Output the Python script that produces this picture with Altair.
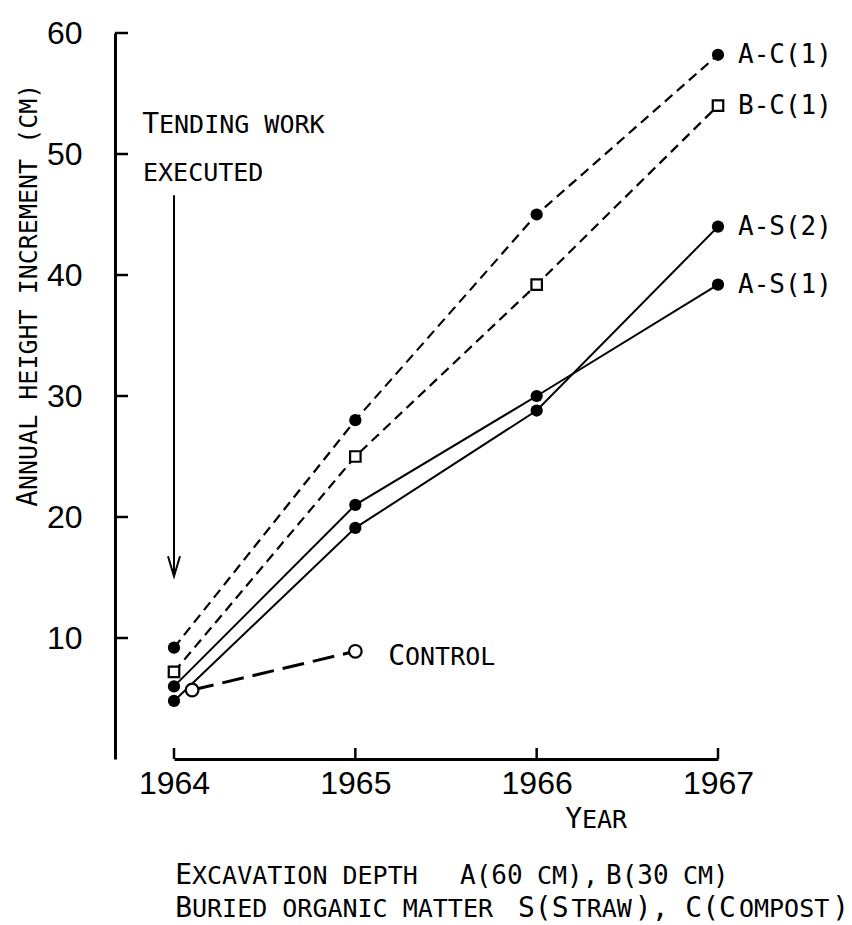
import altair as alt
import pandas as pd

# ---- data -------------------------------------------------------------
years = [1964, 1965, 1966, 1967]
series_names = ["A-C(1)", "B-C(1)", "A-S(2)", "A-S(1)"]
ac1 = [9.2, 28.0, 45.0, 58.2]
bc1 = [7.2, 25.0, 39.2, 54.0]
as2 = [4.8, 19.1, 28.8, 44.0]
as1 = [6.0, 21.0, 30.0, 39.2]
control_years = [1964.1, 1965]
control_values = [5.7, 8.9]
y_tick_values = [10, 20, 30, 40, 50, 60]
arrow_year = [1964]
arrow_from = [46.6]
arrow_to = [15.1]

TEXT_FONT = "DejaVu Sans Mono"
TICK_FONT = "Liberation Sans, DejaVu Sans Condensed"
MONO_ADV = 0.6021  # advance width of DejaVu Sans Mono, in em
BIG = 28           # full capitals
MID = 26           # full capitals in the footnote units
SMALL = 25         # small capitals
LABEL = 26         # series labels

W, H = 544, 726
OX, OY = 174, 33   # top-left corner of the plot area on the page

rows = []
for name, vals in zip(series_names, [ac1, bc1, as2, as1]):
    for yr, v in zip(years, vals):
        rows.append({"series": name, "year": yr, "value": v})
df = pd.DataFrame(rows)
df_ctrl = pd.DataFrame({"series": "Control", "year": control_years, "value": control_values})
df_last = df[df["year"] == years[-1]]

xs = alt.Scale(domain=[1964, 1967], nice=False, zero=False)
ys = alt.Scale(domain=[0, 60], nice=False, zero=True)


def X(axis=None):
    return alt.X("year:Q", scale=xs, axis=axis)


def Y(axis=None):
    return alt.Y("value:Q", scale=ys, axis=axis)


x_axis = alt.Axis(values=years, format="d", ticks=False, grid=False, title=None,
                  labelFont=TICK_FONT, labelFontSize=32, labelColor="black",
                  labelFlush=False, labelPadding=9, domainColor="black", domainWidth=3)
y_axis = alt.Axis(values=y_tick_values, format="d", ticks=False, grid=False, title=None,
                  offset=59, labelFont=TICK_FONT, labelFontSize=32, labelColor="black",
                  labelFlush=False, labelPadding=33, domainColor="black", domainWidth=3,
                  labelBaseline="middle")

# ---- lines ------------------------------------------------------------
solid = alt.Chart(df[df["series"].str.startswith("A-S")]).mark_line(
    color="black", strokeWidth=2).encode(x=X(x_axis), y=Y(y_axis), detail="series:N")

dashed = alt.Chart(df[df["series"].str.endswith("C(1)")]).mark_line(
    color="black", strokeWidth=2.2, strokeDash=[10, 6]).encode(x=X(), y=Y(), detail="series:N")

ctrl_line = alt.Chart(df_ctrl).mark_line(
    color="black", strokeWidth=3, strokeDash=[22, 9]).encode(x=X(), y=Y())

# ---- axis ticks pointing into the plot ---------------------------------
y_ticks = alt.Chart(pd.DataFrame({"value": y_tick_values})).mark_rule(
    color="black", strokeWidth=2.5).encode(
    y=Y(), x=alt.value(-59), x2=alt.value(-46))
x_ticks = alt.Chart(pd.DataFrame({"year": years})).mark_rule(
    color="black", strokeWidth=2.5).encode(
    x=X(), y=alt.value(H), y2=alt.value(H - 11))

# ---- markers ----------------------------------------------------------
dots = alt.Chart(df[df["series"] != "B-C(1)"]).mark_point(
    shape="circle", filled=True, color="black", size=150, opacity=1).encode(x=X(), y=Y())
squares = alt.Chart(df[df["series"] == "B-C(1)"]).mark_point(
    shape="square", filled=True, fill="white", stroke="black", strokeWidth=2.2,
    size=110, opacity=1).encode(x=X(), y=Y())
ctrl_pts = alt.Chart(df_ctrl).mark_point(
    shape="circle", filled=True, fill="white", stroke="black", strokeWidth=2.2,
    size=160, opacity=1).encode(x=X(), y=Y())

series_labels = alt.Chart(df_last).mark_text(
    align="left", baseline="middle", dx=20, font=TEXT_FONT, fontSize=LABEL, color="black"
).encode(x=X(), y=Y(), text="series:N")

# ---- arrow marking when the tending work was done ----------------------
df_arrow = pd.DataFrame({"year": arrow_year, "value": arrow_from, "end": arrow_to})
arrow_shaft = alt.Chart(df_arrow).mark_rule(color="black", strokeWidth=2).encode(
    x=X(), y=Y(), y2="end:Q")
arrow_head = alt.Chart(df_arrow).mark_point(
    shape="M-0.3,-1L0,0L0.3,-1", filled=False, stroke="black", strokeWidth=2,
    size=1600, opacity=1).encode(x=X(), y=alt.Y("end:Q", scale=ys, axis=None))


# ---- small-capital lettering (page pixels converted to plot-area pixels) -
def seg(t, size, px, py):
    return {"t": t, "fs": size, "px": px - OX, "py": py - OY}


def chain(parts, x0, py, gap=2):
    """Lay out consecutive monospace pieces of mixed size from x0."""
    out, x = [], x0
    for t, size in parts:
        out.append(seg(t, size, x, py))
        x += len(t) * MONO_ADV * size + gap
    return out


left_segments = [
    seg("ENDING WORK", SMALL, 159, 133),
    seg("EXECUTED", SMALL, 143, 181),
    seg("ONTROL", SMALL, 405, 665),
    seg("EAR", SMALL, 582, 828),
    # footnote line 1
    seg("XCAVATION DEPTH", SMALL, 192, 884),
    seg("A(60", MID, 460, 884), seg("CM", SMALL, 537, 884), seg("),", MID, 567, 884),
    seg("B(30", MID, 606, 884), seg("CM", SMALL, 683, 884), seg(")", MID, 713, 884),
    # footnote line 2
    seg("URIED ORGANIC MATTER", SMALL, 192, 917),
] + chain([("S(S", BIG), ("TRAW", SMALL), ("), C(C", BIG), ("OMPOST", SMALL), (")", BIG)],
          518, 917, gap=3)

right_segments = [
    seg("T", BIG, 159, 133),
    seg("C", BIG, 405, 665),
    seg("Y", BIG, 582, 828),
    seg("E", BIG, 192, 884),
    seg("B", BIG, 192, 917),
]


def text_layer(rows_, align, angle=0):
    return alt.Chart(pd.DataFrame(rows_)).mark_text(
        align=align, baseline="alphabetic", font=TEXT_FONT, color="black", angle=angle
    ).encode(
        x=alt.X("px:Q", scale=None, axis=None),
        y=alt.Y("py:Q", scale=None, axis=None),
        size=alt.Size("fs:Q", scale=None, legend=None),
        text="t:N",
    )


notes_left = text_layer(left_segments, "left")
notes_right = text_layer(right_segments, "right")
title_rest = text_layer([seg("NNUAL HEIGHT INCREMENT (CM)", SMALL, 37, 490)], "left", 270)
title_cap = text_layer([seg("A", BIG, 37, 490)], "right", 270)

chart = alt.layer(
    solid, dashed, ctrl_line, y_ticks, x_ticks, arrow_shaft, arrow_head,
    dots, squares, ctrl_pts, series_labels,
    notes_left, notes_right, title_rest, title_cap,
).resolve_scale(
    x="independent", y="independent", size="independent"
).properties(
    width=W, height=H,
    autosize=alt.AutoSizeParams(type="none"),
    padding={"left": OX, "top": OY, "right": 852 - OX - W, "bottom": 925 - OY - H},
    background="white",
).configure_view(stroke=None)

chart.save("out.html", embed_options={"renderer": "svg", "actions": False})
